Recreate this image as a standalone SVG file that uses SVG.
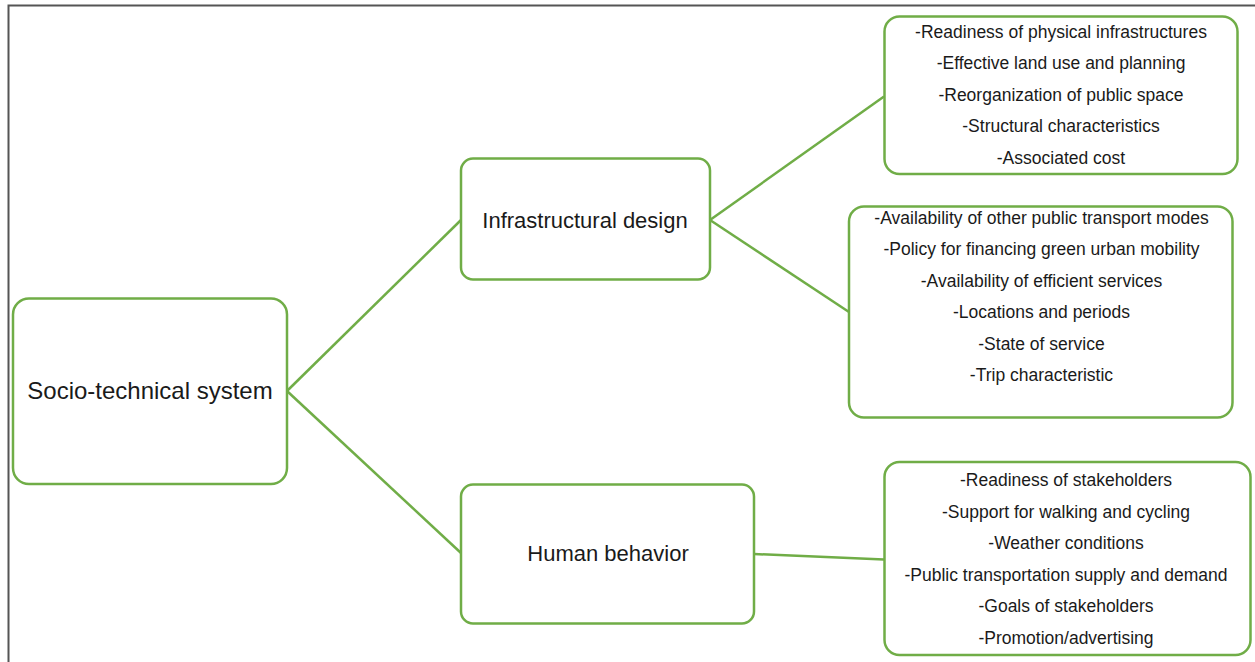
<svg xmlns="http://www.w3.org/2000/svg" width="1255" height="662" viewBox="0 0 1255 662">
<style>
.box{fill:#fff;stroke:#70AD47;stroke-width:2.5}
.conn{stroke:#70AD47;stroke-width:2.5;fill:none}
.big{font-family:"Liberation Sans",Arial,sans-serif;font-size:22px;fill:#1a1a1a;text-anchor:middle}
.small{font-family:"Liberation Sans",Arial,sans-serif;font-size:17.5px;fill:#1a1a1a;text-anchor:middle}
</style>
<rect width="1255" height="662" fill="#fff"/>
<path d="M8.5 662 V5.5 H1255" fill="none" stroke="#555" stroke-width="2"/>
<g id="connectors">
<line class="conn" x1="287" y1="391" x2="461" y2="220"/>
<line class="conn" x1="287" y1="391" x2="461" y2="553"/>
<line class="conn" x1="710" y1="220" x2="884" y2="96.5"/>
<line class="conn" x1="710" y1="220" x2="849" y2="312"/>
<line class="conn" x1="754" y1="554" x2="884" y2="559.5"/>
</g>
<g id="socio">
<rect class="box" x="13" y="298.5" width="274" height="185.5" rx="16"/>
<text class="big" x="150" y="399" style="font-size:24px">Socio-technical system</text>
</g>
<g id="infra">
<rect class="box" x="461" y="158.5" width="249" height="121" rx="12"/>
<text class="big" x="585" y="228">Infrastructural design</text>
</g>
<g id="human">
<rect class="box" x="461" y="484.5" width="293" height="139" rx="12"/>
<text class="big" x="608" y="561">Human behavior</text>
</g>
<g id="infra-physical">
<rect class="box" x="884.5" y="16.5" width="353" height="157.5" rx="15"/>
<text class="small" x="1061" y="37.5">-Readiness of physical infrastructures</text>
<text class="small" x="1061" y="69">-Effective land use and planning</text>
<text class="small" x="1061" y="100.5">-Reorganization of public space</text>
<text class="small" x="1061" y="132">-Structural characteristics</text>
<text class="small" x="1061" y="163.5">-Associated cost</text>
</g>
<g id="infra-services">
<rect class="box" x="849" y="206.5" width="383.5" height="211" rx="15"/>
<text class="small" x="1041.5" y="223.5">-Availability of other public transport modes</text>
<text class="small" x="1041.5" y="255">-Policy for financing green urban mobility</text>
<text class="small" x="1041.5" y="286.5">-Availability of efficient services</text>
<text class="small" x="1041.5" y="318">-Locations and periods</text>
<text class="small" x="1041.5" y="349.5">-State of service</text>
<text class="small" x="1041.5" y="381">-Trip characteristic</text>
</g>
<g id="human-factors">
<rect class="box" x="884.5" y="462" width="366" height="193" rx="15"/>
<text class="small" x="1066" y="486">-Readiness of stakeholders</text>
<text class="small" x="1066" y="517.5">-Support for walking and cycling</text>
<text class="small" x="1066" y="549">-Weather conditions</text>
<text class="small" x="1066" y="580.5">-Public transportation supply and demand</text>
<text class="small" x="1066" y="612">-Goals of stakeholders</text>
<text class="small" x="1066" y="643.5">-Promotion/advertising</text>
</g>
</svg>
